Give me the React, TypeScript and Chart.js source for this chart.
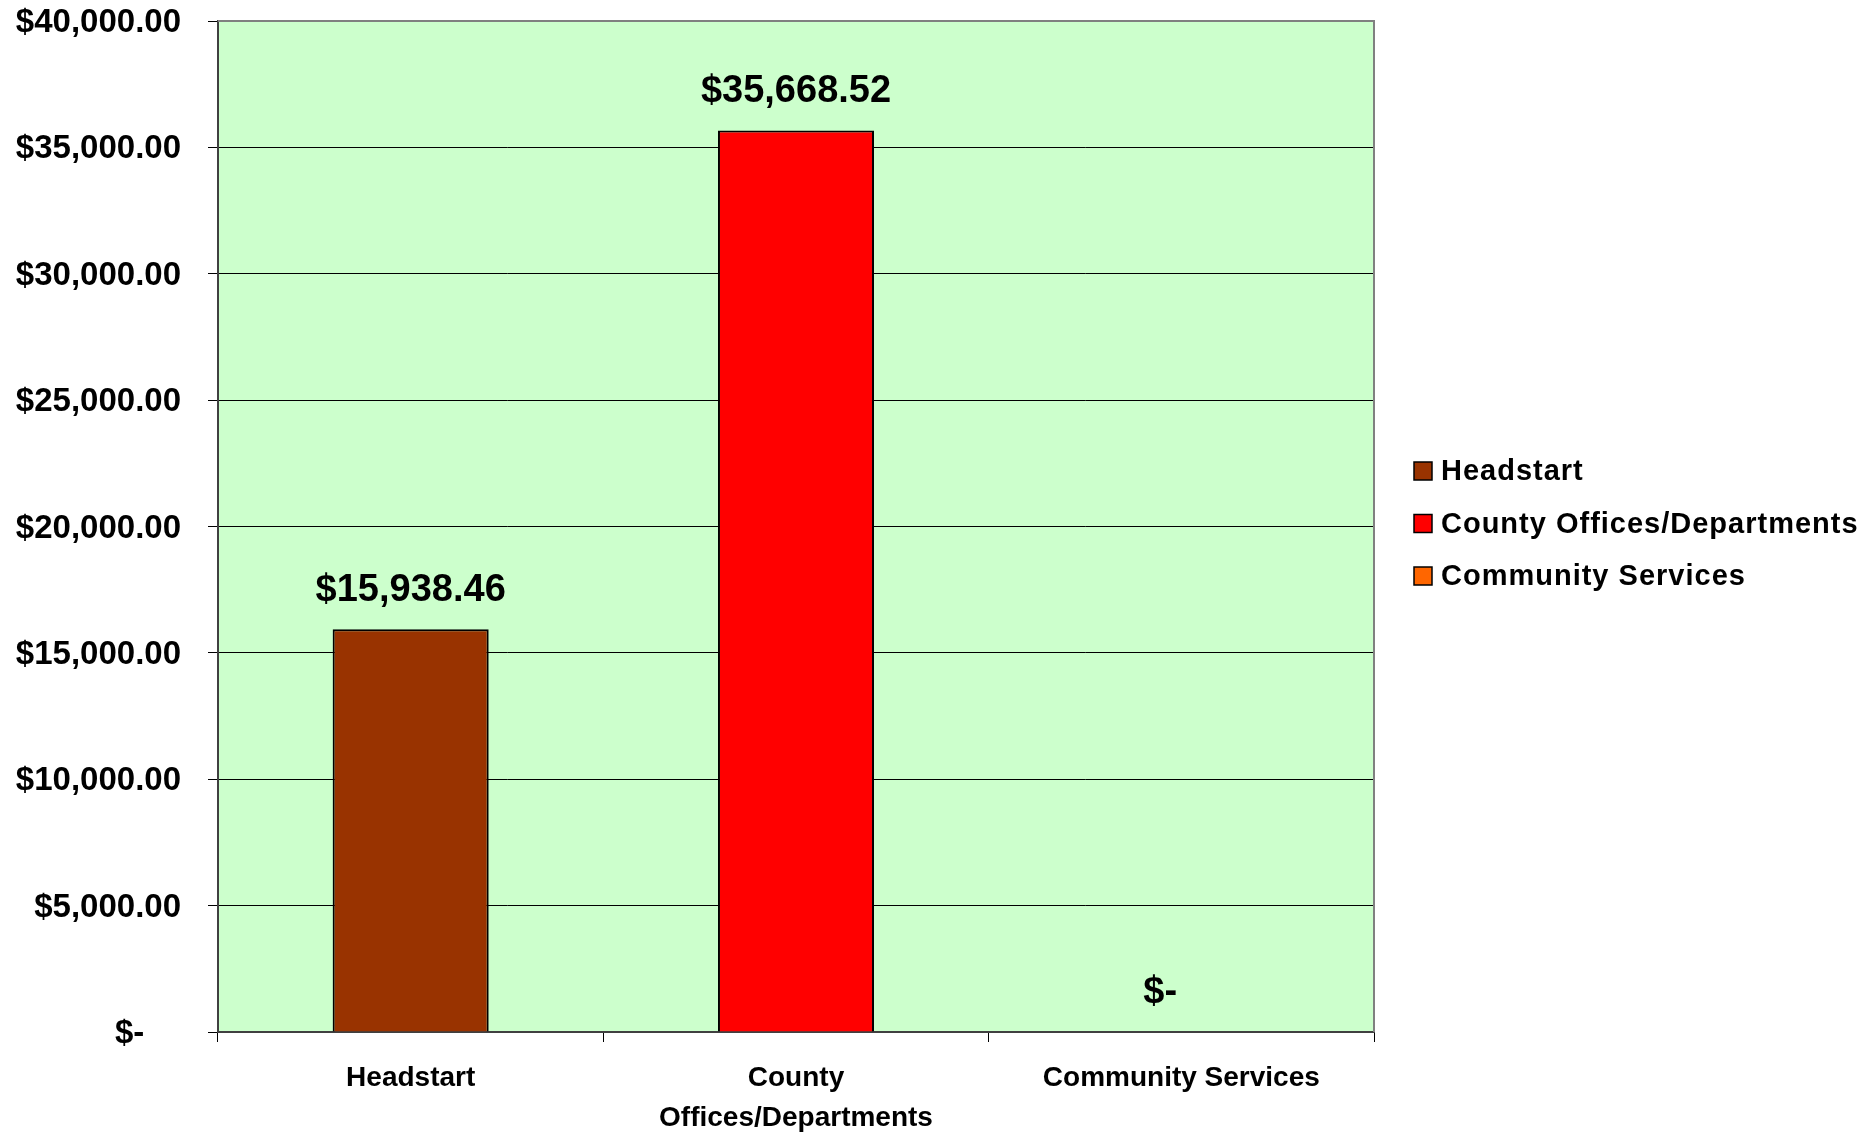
import React, { useEffect, useRef } from "react";
import { Chart, registerables } from "chart.js";

Chart.register(...registerables);

const categories = ["Headstart", "County Offices/Departments", "Community Services"];
const tickLabelLines = [["Headstart"], ["County", "Offices/Departments"], ["Community Services"]];
const values = [15938.46, 35668.52, 0];
const barColors = ["#993300", "#FF0000", "#FF6600"];
const yTicks = [0, 5000, 10000, 15000, 20000, 25000, 30000, 35000, 40000];

const FONT = "'Liberation Sans', Arial, sans-serif";

function money(v: number): string {
  if (v === 0) return "$-    ";
  return "$" + v.toLocaleString("en-US", { minimumFractionDigits: 2, maximumFractionDigits: 2 });
}

const plotBg = {
  id: "plotBg",
  beforeDraw(chart: any) {
    const { ctx, chartArea: a } = chart;
    ctx.save();
    ctx.fillStyle = "#CCFFCC";
    ctx.fillRect(a.left, a.top, a.right - a.left, a.bottom - a.top);
    ctx.restore();
  },
  afterDatasetsDraw(chart: any) {
    const { ctx, chartArea: a } = chart;
    ctx.save();
    ctx.strokeStyle = "#808080";
    ctx.lineWidth = 2;
    ctx.beginPath();
    ctx.moveTo(a.left, a.top);
    ctx.lineTo(a.right, a.top);
    ctx.lineTo(a.right, a.bottom);
    ctx.stroke();
    ctx.restore();
  },
};

const dataLabels = {
  id: "dataLabels",
  afterDatasetsDraw(chart: any) {
    const { ctx } = chart;
    const meta = chart.getDatasetMeta(0);
    ctx.save();
    ctx.font = `bold 38px ${FONT}`;
    ctx.fillStyle = "#000";
    ctx.textAlign = "center";
    ctx.textBaseline = "middle";
    meta.data.forEach((bar: any, i: number) => {
      const v = chart.data.datasets[0].data[i] as number;
      ctx.fillText(money(v), bar.x, bar.y - 39);
    });
    ctx.restore();
  },
};

const customLegend = {
  id: "customLegend",
  afterDraw(chart: any) {
    const { ctx, chartArea: a } = chart;
    const cy = (a.top + a.bottom) / 2 - 3;
    const step = 52.5;
    const boxX = a.right + 40;
    const box = 18;
    ctx.save();
    ctx.font = `bold 29px ${FONT}`;
    (ctx as any).letterSpacing = "1px";
    ctx.textAlign = "left";
    ctx.textBaseline = "middle";
    categories.forEach((name, i) => {
      const y = cy + (i - (categories.length - 1) / 2) * step;
      ctx.fillStyle = barColors[i];
      ctx.fillRect(boxX, y - box / 2, box, box);
      ctx.strokeStyle = "#000";
      ctx.lineWidth = 1.5;
      ctx.strokeRect(boxX, y - box / 2, box, box);
      ctx.fillStyle = "#000";
      ctx.fillText(name, boxX + 27, y + 1);
    });
    ctx.restore();
  },
};

export default function App() {
  const ref = useRef<HTMLCanvasElement>(null);
  useEffect(() => {
    if (!ref.current) return;
    const chart = new Chart(ref.current, {
      type: "bar",
      data: {
        labels: tickLabelLines as any,
        datasets: [
          {
            label: "Amount",
            data: values,
            backgroundColor: barColors,
            borderColor: "#000000",
            borderWidth: 2,
            categoryPercentage: 1,
            barPercentage: 0.405,
          },
        ],
      },
      options: {
        responsive: false,
        animation: false,
        layout: { padding: { left: 0, top: 0, right: 491, bottom: 0 } },
        plugins: {
          legend: { display: false },
          tooltip: { enabled: false },
        },
        scales: {
          x: {
            grid: {
              offset: true,
              drawOnChartArea: false,
              drawTicks: true,
              tickLength: 10,
              color: "#000",
              lineWidth: 1,
            },
            border: { color: "#404040", width: 2 },
            ticks: {
              color: "#000",
              font: { family: FONT, size: 28, weight: "bold", lineHeight: 1.43 },
              padding: 16,
              maxRotation: 0,
              autoSkip: false,
            },
            afterFit: (scale: any) => {
              scale.height = 101;
            },
          },
          y: {
            min: 0,
            max: 40000,
            afterBuildTicks: (scale: any) => {
              scale.ticks = yTicks.map((v) => ({ value: v }));
            },
            grid: {
              drawOnChartArea: true,
              drawTicks: true,
              tickLength: 10,
              color: "#000",
              lineWidth: 1,
            },
            border: { color: "#404040", width: 2 },
            ticks: {
              color: "#000",
              font: { family: FONT, size: 33, weight: "bold" },
              padding: 27,
              labelOffset: 2,
              callback: (v: any) => money(Number(v)),
            },
            afterFit: (scale: any) => {
              scale.width = 218;
              scale.paddingTop = 21;
              scale.paddingBottom = 21;
            },
          },
        },
      },
      plugins: [plotBg, dataLabels, customLegend],
    });
    return () => chart.destroy();
  }, []);
  return (
    <div style={{ position: "absolute", left: 0, top: 0, width: 1865, height: 1133, background: "#fff" }}>
      <canvas ref={ref} width={1865} height={1133} />
    </div>
  );
}
